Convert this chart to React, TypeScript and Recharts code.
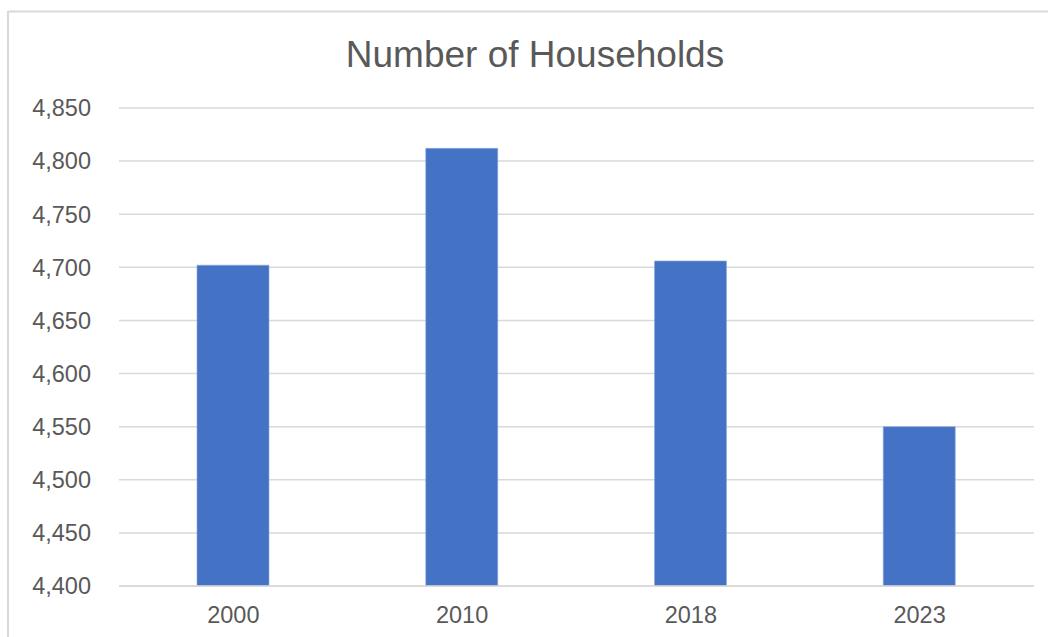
import React from "react";
import { BarChart, Bar, XAxis, YAxis, CartesianGrid } from "recharts";

const years = ["2000", "2010", "2018", "2023"];
const households = [4702, 4812, 4706, 4550];
const yTicks = [4400, 4450, 4500, 4550, 4600, 4650, 4700, 4750, 4800, 4850];

const data = years.map((year, i) => ({ year, value: households[i] }));

const textColor = "#595959";
const gridColor = "#d9d9d9";
const font = "'Liberation Sans', Arial, sans-serif";

const App = () => {
    return (
        <div style={{ position: "absolute", left: 0, top: 0, width: 1048, height: 637, background: "#fff" }}>
            <BarChart
                width={1048}
                height={637}
                data={data}
                margin={{ top: 108, right: 14, left: 0, bottom: 0 }}
            >
                <CartesianGrid vertical={false} stroke={gridColor} strokeWidth={1.5} />
                <XAxis
                    dataKey="year"
                    height={51}
                    axisLine={{ stroke: gridColor, strokeWidth: 1.5 }}
                    tickLine={false}
                    tickSize={6}
                    tickMargin={14}
                    tick={{ fill: textColor, fontSize: 23.5, fontFamily: font }}
                />
                <YAxis
                    width={119}
                    domain={[4400, 4850]}
                    ticks={yTicks}
                    interval={0}
                    allowDataOverflow
                    axisLine={false}
                    tickLine={false}
                    tickSize={6}
                    tickMargin={22}
                    tickFormatter={(v: number) => v.toLocaleString("en-US")}
                    tick={{ fill: textColor, fontSize: 23.5, fontFamily: font }}
                />
                <Bar
                    dataKey="value"
                    fill="#4472C4"
                    stroke="#8faadc"
                    strokeWidth={0.6}
                    barSize={72}
                    isAnimationActive={false}
                />
            </BarChart>
            <svg
                width={1048}
                height={637}
                style={{ position: "absolute", left: 0, top: 0, pointerEvents: "none" }}
            >
                <line x1={8} y1={11.5} x2={1048} y2={11.5} stroke={gridColor} strokeWidth={2} />
                <line x1={8} y1={11} x2={8} y2={637} stroke={gridColor} strokeWidth={2} />
                <text
                    x={535}
                    y={66.5}
                    textAnchor="middle"
                    fill={textColor}
                    fontSize={37}
                    fontFamily={font}
                >
                    Number of Households
                </text>
            </svg>
        </div>
    );
};

export default App;
